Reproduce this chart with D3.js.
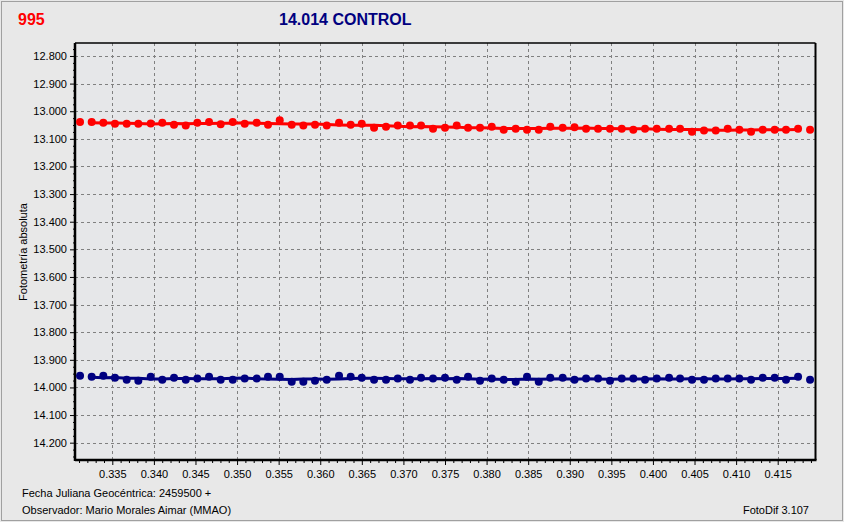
<!DOCTYPE html>
<html><head><meta charset="utf-8">
<script src="https://cdn.jsdelivr.net/npm/d3@7/dist/d3.min.js"></script>
<style>html,body{margin:0;padding:0;background:#e8e8e8;}svg{display:block;}</style>
</head><body>
<script>
const jd = [0.33112,0.33252,0.33392,0.33532,0.33673,0.33813,0.33962,0.34101,0.34242,0.34383,0.34522,0.34663,0.34803,0.34948,0.35092,0.35236,0.35372,0.35513,0.35657,0.35797,0.35937,0.36078,0.36226,0.36366,0.36499,0.36647,0.36791,0.36932,0.37079,0.37212,0.37356,0.37500,0.37641,0.37777,0.37921,0.38062,0.38206,0.38350,0.38486,0.38627,0.38766,0.38915,0.39057,0.39196,0.39340,0.39484,0.39625,0.39764,0.39905,0.40046,0.40194,0.40326,0.40470,0.40614,0.40755,0.40899,0.41039,0.41180,0.41320,0.41464,0.41600,0.41745,0.41889];
const redMag = [13.039,13.039,13.042,13.045,13.045,13.045,13.044,13.042,13.049,13.052,13.042,13.039,13.047,13.039,13.045,13.042,13.049,13.033,13.049,13.052,13.049,13.052,13.042,13.049,13.045,13.060,13.056,13.052,13.052,13.052,13.063,13.060,13.052,13.060,13.060,13.056,13.067,13.063,13.067,13.067,13.056,13.060,13.058,13.063,13.063,13.063,13.063,13.067,13.063,13.063,13.063,13.063,13.074,13.070,13.070,13.063,13.067,13.074,13.067,13.067,13.067,13.063,13.067];
const blueMag = [13.958,13.961,13.958,13.965,13.972,13.976,13.961,13.972,13.965,13.972,13.968,13.961,13.972,13.972,13.968,13.968,13.961,13.961,13.979,13.979,13.976,13.972,13.958,13.961,13.965,13.972,13.972,13.968,13.972,13.965,13.968,13.965,13.972,13.961,13.976,13.968,13.972,13.979,13.961,13.979,13.965,13.965,13.972,13.968,13.968,13.976,13.968,13.968,13.972,13.968,13.965,13.968,13.972,13.972,13.968,13.968,13.968,13.972,13.965,13.965,13.972,13.961,13.972];
const yTicks = [12.8,12.9,13.0,13.1,13.2,13.3,13.4,13.5,13.6,13.7,13.8,13.9,14.0,14.1,14.2];
const xTicks = [0.335,0.340,0.345,0.350,0.355,0.360,0.365,0.370,0.375,0.380,0.385,0.390,0.395,0.400,0.405,0.410,0.415];
const starName = "995";
const title = "14.014 CONTROL";
const yTitle = "Fotometría absoluta";
const footer1 = "Fecha Juliana Geocéntrica: 2459500 +";
const footer2 = "Observador: Mario Morales Aimar (MMAO)";
const footer3 = "FotoDif 3.107";

const W = 844, H = 522;
const L = 75, T = 43, R = 815.5, B = 460;
const font = "'Liberation Sans', Arial, sans-serif";

const svg = d3.select("body").append("svg").attr("width", W).attr("height", H);
svg.append("rect").attr("width", W).attr("height", H).attr("fill", "#e8e8e8");
svg.append("rect").attr("x", 1.5).attr("y", 1.5).attr("width", W - 3).attr("height", H - 3)
  .attr("fill", "none").attr("stroke", "#a0a0a0").attr("stroke-width", 1);

const x = d3.scaleLinear().domain([0.330515, 0.419545]).range([L, R]);
const y = d3.scaleLinear().domain([12.753, 14.2627]).range([T, B]);

svg.append("rect").attr("x", L).attr("y", T).attr("width", R - L).attr("height", B - T).attr("fill", "#e6e7e9");

// grid
const g = svg.append("g");
g.selectAll(".hg").data(yTicks).join("line")
  .attr("x1", L).attr("x2", R).attr("y1", d => Math.round(y(d)) + 0.5).attr("y2", d => Math.round(y(d)) + 0.5)
  .attr("stroke", "#808080").attr("stroke-dasharray", "3,3");
g.selectAll(".vg").data(xTicks).join("line")
  .attr("y1", T).attr("y2", B).attr("x1", d => Math.round(x(d)) + 0.5).attr("x2", d => Math.round(x(d)) + 0.5)
  .attr("stroke", "#808080").attr("stroke-dasharray", "3,3");

// y axis
const yAxis = d3.axisLeft(y).tickValues(yTicks).tickFormat(d3.format(".3f")).tickSize(5).tickPadding(3);
const ya = svg.append("g").attr("transform", `translate(${L},0)`).call(yAxis);
ya.select(".domain").remove();
ya.selectAll("text").attr("font-family", font).attr("font-size", 11).attr("fill", "#000");
const yMinor = d3.range(12.775, 14.26, 0.025).filter(v => Math.abs(Math.round(v * 10) - v * 10) > 0.01);
svg.append("g").attr("transform", `translate(${L},0)`).call(d3.axisLeft(y).tickValues(yMinor).tickSize(2).tickFormat(""))
  .select(".domain").remove();

// x axis
const xAxis = d3.axisBottom(x).tickValues(xTicks).tickFormat(d3.format(".3f")).tickSize(5).tickPadding(5);
const xa = svg.append("g").attr("transform", `translate(0,${B})`).call(xAxis);
xa.select(".domain").remove();
xa.selectAll("text").attr("font-family", font).attr("font-size", 11).attr("fill", "#000");
const xMinor = d3.range(0.331, 0.4195, 0.001).filter(v => Math.abs(Math.round(v * 200) - v * 200) > 0.01);
svg.append("g").attr("transform", `translate(0,${B})`).call(d3.axisBottom(x).tickValues(xMinor).tickSize(3).tickFormat(""))
  .select(".domain").remove();

// frame
svg.append("line").attr("x1", L).attr("x2", R).attr("y1", T).attr("y2", T).attr("stroke", "#000").attr("stroke-width", 1.5);
svg.append("line").attr("x1", R).attr("x2", R).attr("y1", T).attr("y2", B).attr("stroke", "#000").attr("stroke-width", 2);
svg.append("line").attr("x1", L).attr("x2", L).attr("y1", T).attr("y2", B + 1).attr("stroke", "#000").attr("stroke-width", 2.5);
svg.append("line").attr("x1", L).attr("x2", R + 1).attr("y1", B).attr("y2", B).attr("stroke", "#000").attr("stroke-width", 2.5);

// series
function smooth(arr, w) {
  return arr.map((v, i) => {
    const a = Math.max(0, i - w), b = Math.min(arr.length - 1, i + w);
    return d3.mean(arr.slice(a, b + 1));
  });
}
function drawSeries(vals, color) {
  const sm = smooth(vals, 3);
  const pts = jd.map((d, i) => [d, sm[i]]).slice(1, jd.length - 1);
  svg.append("path").datum(pts)
    .attr("d", d3.line().x(d => x(d[0])).y(d => y(d[1])))
    .attr("fill", "none").attr("stroke", color).attr("stroke-width", 3);
  svg.append("g").selectAll("circle").data(jd.map((d, i) => [d, vals[i]])).join("circle")
    .attr("cx", d => x(d[0])).attr("cy", d => y(d[1])).attr("r", 4).attr("fill", color);
}
drawSeries(redMag, "#ff0000");
drawSeries(blueMag, "#000080");

// texts
svg.append("text").attr("x", 18).attr("y", 25).text(starName)
  .attr("font-family", font).attr("font-size", 16).attr("font-weight", "bold").attr("fill", "#ff0000");
svg.append("text").attr("x", 279).attr("y", 25).text(title)
  .attr("font-family", font).attr("font-size", 16).attr("font-weight", "bold").attr("fill", "#000080");
svg.append("text").attr("transform", "translate(27,252) rotate(-90)").attr("text-anchor", "middle").text(yTitle)
  .attr("font-family", font).attr("font-size", 11).attr("fill", "#000");
svg.append("text").attr("x", 22).attr("y", 497).text(footer1).attr("font-family", font).attr("font-size", 11).attr("fill", "#000");
svg.append("text").attr("x", 22).attr("y", 514).text(footer2).attr("font-family", font).attr("font-size", 11).attr("fill", "#000");
svg.append("text").attr("x", 809).attr("y", 514).attr("text-anchor", "end").text(footer3).attr("font-family", font).attr("font-size", 11).attr("fill", "#000");
</script>
</body></html>
